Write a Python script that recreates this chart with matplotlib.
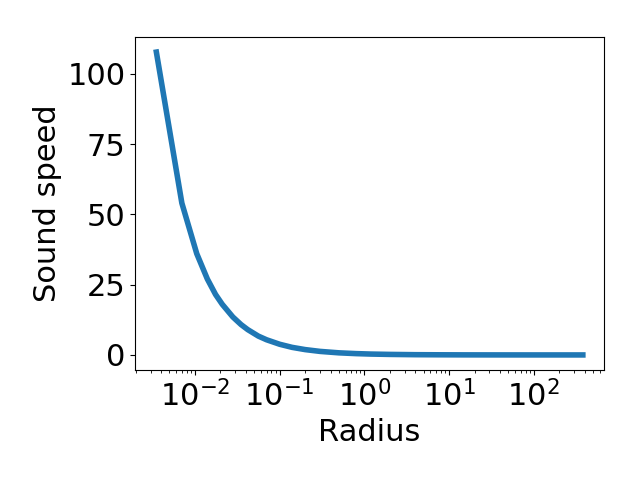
import matplotlib
matplotlib.use('Agg')
import matplotlib.pyplot as plt

# values
radius = [0.0035, 0.007, 0.0105, 0.014, 0.0175, 0.021, 0.028, 0.035, 0.042,
          0.056, 0.07, 0.1, 0.14, 0.2, 0.3, 0.5, 0.8, 1.2, 2, 4, 8, 15, 30,
          60, 120, 250, 380]
sound_speed = [107.7, 54, 36, 27, 21.5, 18, 13.5, 10.8, 9.0, 6.7, 5.4, 3.8,
               2.7, 1.9, 1.26, 0.75, 0.47, 0.31, 0.19, 0.09, 0.05, 0.025,
               0.013, 0.006, 0.003, 0.0015, 0.001]

plt.rcParams['font.size'] = 22
fig, ax = plt.subplots(figsize=(6.4, 4.8), dpi=100)
ax.plot(radius, sound_speed, color='#1f77b4', lw=4)
ax.set_xscale('log')
ax.set_xlabel('Radius', fontsize=22)
ax.set_ylabel('Sound speed', fontsize=22)
ax.set_yticks([0, 25, 50, 75, 100])
plt.subplots_adjust(left=0.211, right=0.944, top=0.923, bottom=0.229)
plt.savefig('out.png')
